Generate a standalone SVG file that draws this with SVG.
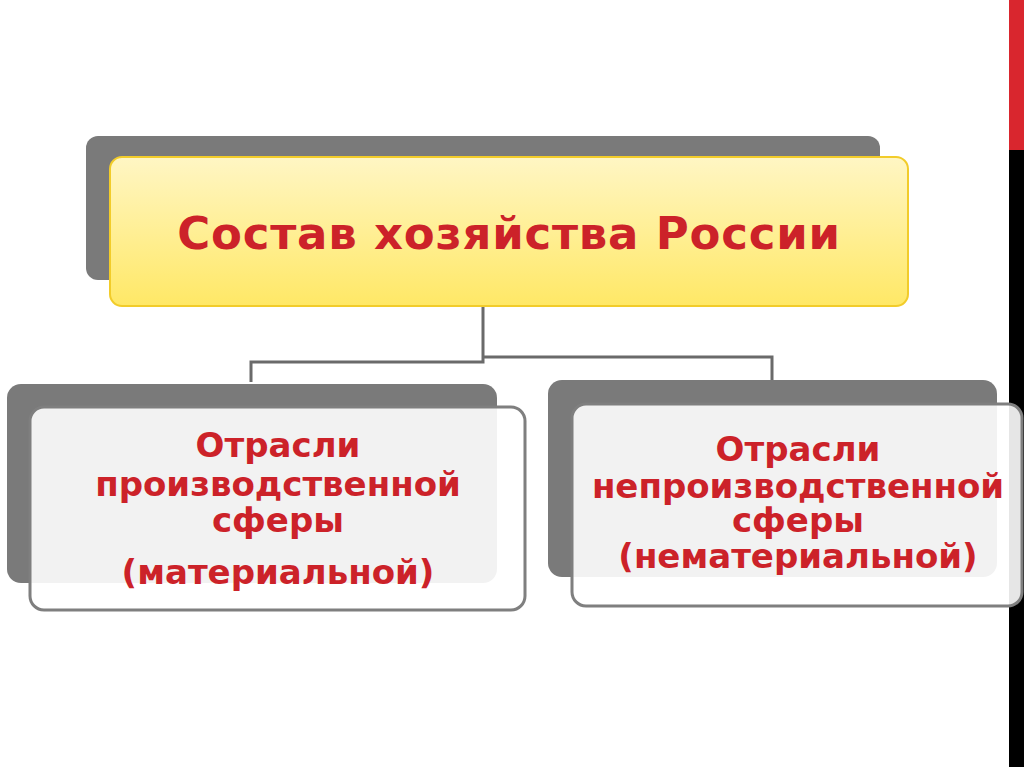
<svg xmlns="http://www.w3.org/2000/svg" width="1024" height="767" viewBox="0 0 1024 767">
<defs>
<linearGradient id="yel" x1="0" y1="0" x2="0" y2="1">
<stop offset="0" stop-color="#fff6c4"/>
<stop offset="1" stop-color="#ffe866"/>
</linearGradient>
<style>
.back{fill:#7a7a7a}
.front{fill:#ffffff;fill-opacity:0.9;stroke:#7f7f7f;stroke-width:3}
.t{font-family:"DejaVu Sans",Verdana,sans-serif;font-weight:bold;fill:#cc2229;text-anchor:middle}
.conn{fill:none;stroke:#6a6a6a;stroke-width:3}
</style>
</defs>
<rect width="1024" height="767" fill="#ffffff"/>
<rect x="1009" y="0" width="15" height="150" fill="#d9262e"/>
<rect x="1009" y="150" width="15" height="617" fill="#000000"/>
<g id="connectors">
<polyline class="conn" points="483,307 483,362 251,362 251,382"/>
<polyline class="conn" points="483,357 772,357 772,386"/>
</g>
<g id="node-top">
<rect class="back" x="86" y="136" width="794" height="144" rx="12"/>
<rect x="110" y="157" width="798" height="149" rx="12" fill="url(#yel)" stroke="#f2cc2a" stroke-width="2"/>
<text class="t" x="509" y="249" font-size="45" letter-spacing="0.8">Состав хозяйства России</text>
</g>
<g id="node-left">
<rect class="back" x="7" y="384" width="490" height="199" rx="14"/>
<rect class="front" x="30" y="407" width="495" height="203" rx="14"/>
<text class="t" font-size="34"><tspan x="278" y="457">Отрасли</tspan><tspan x="278" y="496">производственной</tspan><tspan x="278" y="532">сферы</tspan><tspan x="278" y="584">(материальной)</tspan></text>
</g>
<g id="node-right">
<rect class="back" x="548" y="380" width="449" height="197" rx="14"/>
<rect class="front" x="572" y="404" width="450" height="202" rx="14"/>
<text class="t" font-size="34"><tspan x="798" y="461">Отрасли</tspan><tspan x="798" y="498">непроизводственной</tspan><tspan x="798" y="532">сферы</tspan><tspan x="798" y="568">(нематериальной)</tspan></text>
</g>
</svg>
